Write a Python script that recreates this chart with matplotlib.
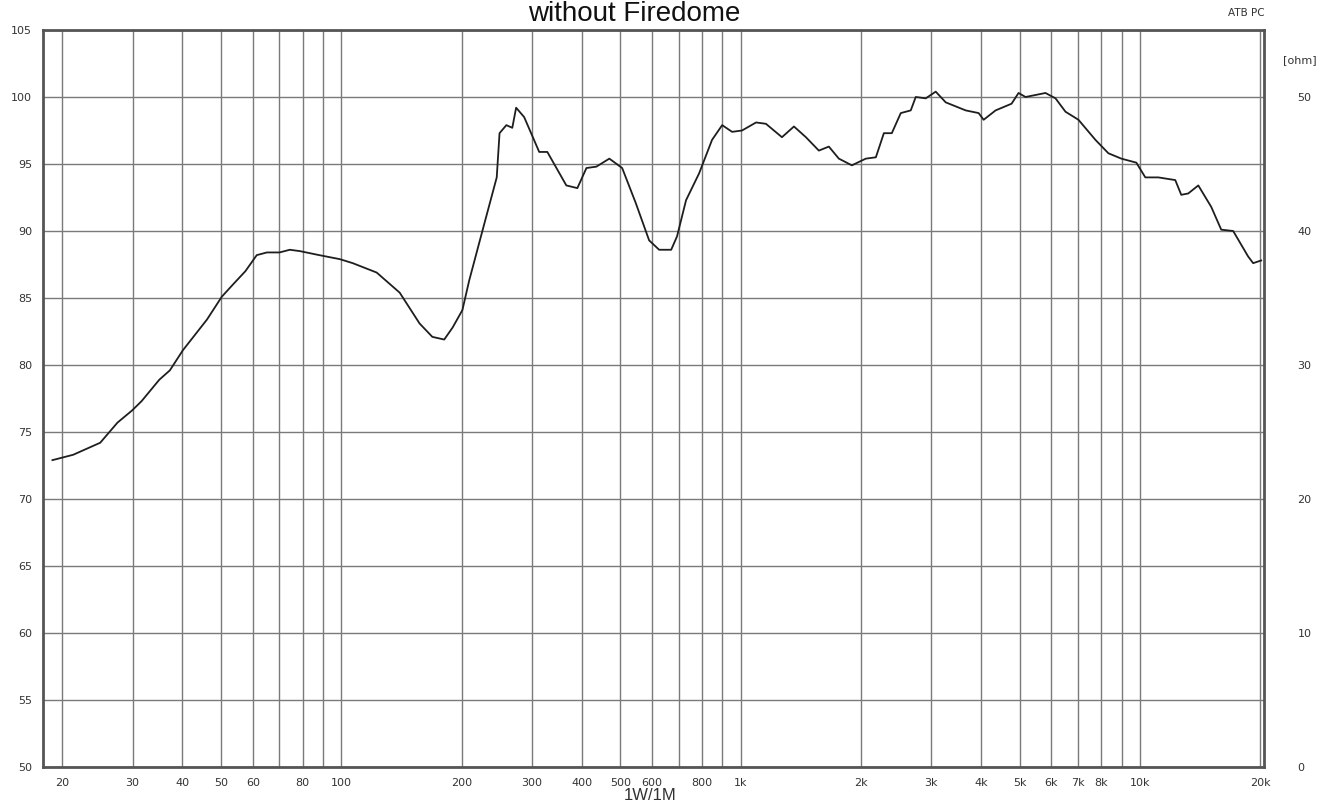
import matplotlib
matplotlib.use("Agg")
import matplotlib.pyplot as plt
from matplotlib.ticker import FixedLocator, NullLocator

# ---- data ----
freq_hz = [18.9, 21.3, 24.9, 27.5, 29.9, 31.6, 35.0, 37.2, 40.1, 46.1, 50.2, 53.5,
           57.5, 61.4, 65.1, 70.0, 74.3, 78.7, 88.0, 99.1, 106.8, 122.6, 140, 157,
           169, 181, 190, 201, 209, 226, 245, 249, 259, 268, 274, 287, 313, 328,
           366, 390, 411, 435, 469, 505, 546, 590, 625, 670, 693, 730, 787, 848,
           899, 952, 1008, 1093, 1157, 1269, 1360, 1457, 1570, 1663, 1762, 1899,
           2058, 2181, 2284, 2391, 2518, 2667, 2745, 2908, 3080, 3263, 3661, 3945,
           4060, 4350, 4770, 4966, 5170, 5800, 6145, 6510, 7015, 7737, 8337, 8985,
           9795, 10315, 11120, 12260, 12690, 13210, 14000, 15085, 15980, 17120,
           18660, 19210, 20120]
spl_db = [72.9, 73.3, 74.2, 75.7, 76.6, 77.3, 78.9, 79.6, 81.1, 83.4, 85.1, 86.0,
          87.0, 88.2, 88.4, 88.4, 88.6, 88.5, 88.2, 87.9, 87.6, 86.9, 85.4, 83.1,
          82.1, 81.9, 82.8, 84.1, 86.3, 90.1, 94.0, 97.3, 97.9, 97.7, 99.2, 98.5,
          95.9, 95.9, 93.4, 93.2, 94.7, 94.8, 95.4, 94.7, 92.1, 89.3, 88.6, 88.6,
          89.6, 92.3, 94.3, 96.8, 97.9, 97.4, 97.5, 98.1, 98.0, 97.0, 97.8, 97.0,
          96.0, 96.3, 95.4, 94.9, 95.4, 95.5, 97.3, 97.3, 98.8, 99.0, 100.0, 99.9,
          100.4, 99.6, 99.0, 98.8, 98.3, 99.0, 99.5, 100.3, 100.0, 100.3, 99.9,
          98.9, 98.3, 96.8, 95.8, 95.4, 95.1, 94.0, 94.0, 93.8, 92.7, 92.8, 93.4,
          91.8, 90.1, 90.0, 88.1, 87.6, 87.8]

x_ticks = [20, 30, 40, 50, 60, 80, 100, 200, 300, 400, 500, 600, 800, 1000,
           2000, 3000, 4000, 5000, 6000, 7000, 8000, 10000, 20000]
x_labels = ["20", "30", "40", "50", "60", "80", "100", "200", "300", "400", "500",
            "600", "800", "1k", "2k", "3k", "4k", "5k", "6k", "7k", "8k", "10k", "20k"]
x_grid = [20, 30, 40, 50, 60, 70, 80, 90, 100, 200, 300, 400, 500, 600, 700, 800,
          900, 1000, 2000, 3000, 4000, 5000, 6000, 7000, 8000, 9000, 10000, 20000]
y_ticks = [50, 55, 60, 65, 70, 75, 80, 85, 90, 95, 100, 105]
ohm_ticks = [0, 10, 20, 30, 40, 50]

title = "without Firedome"

# ---- figure ----
W, H = 1327, 805
fig = plt.figure(figsize=(W / 100, H / 100), dpi=100)
L, R, T, B = 43, 1264, 30, 767
ax = fig.add_axes([L / W, 1 - B / H, (R - L) / W, (B - T) / H])

grid_c = "#7a7a7a"
txt_c = "#333333"
ax.set_xscale("log")
ax.set_xlim(17.9, 20450)
ax.set_ylim(50, 105)

for gx in x_grid:
    ax.axvline(gx, color=grid_c, lw=1.0, zorder=1)
for gy in y_ticks:
    ax.axhline(gy, color=grid_c, lw=1.0, zorder=1)

ax.plot(freq_hz, spl_db, color="#1e1e1e", lw=1.3, zorder=3)

ax.xaxis.set_major_locator(FixedLocator(x_ticks))
ax.xaxis.set_minor_locator(NullLocator())
ax.set_xticklabels(x_labels)
ax.set_yticks(y_ticks)
ax.tick_params(axis="both", length=0, labelsize=8, colors=txt_c)
ax.tick_params(axis="x", pad=8)
ax.tick_params(axis="y", pad=8)
for sp in ax.spines.values():
    sp.set_color("#555555")
    sp.set_linewidth(2.0)

ax2 = ax.twinx()
ax2.set_ylim(0, 55)
ax2.set_yticks(ohm_ticks)
ax2.tick_params(axis="y", length=0, labelsize=8, colors=txt_c, pad=24)
for sp in ax2.spines.values():
    sp.set_visible(False)

fig.text(1283 / W, 1 - 60 / H, "[ohm]", fontsize=8, color=txt_c, ha="left", va="center")
fig.text(1265 / W, 1 - 13 / H, "ATB PC", fontsize=7.5, color=txt_c, ha="right", va="center")
fig.text(650 / W, 1 - 795 / H, "1W/1M", fontsize=12, color=txt_c, ha="center", va="center",
         family="Liberation Sans")
fig.text(634 / W, 1 - 21 / H, title, fontsize=20, color="#111111", ha="center",
         va="baseline", family="Liberation Sans")

fig.savefig("out.png", dpi=100, facecolor="white")
